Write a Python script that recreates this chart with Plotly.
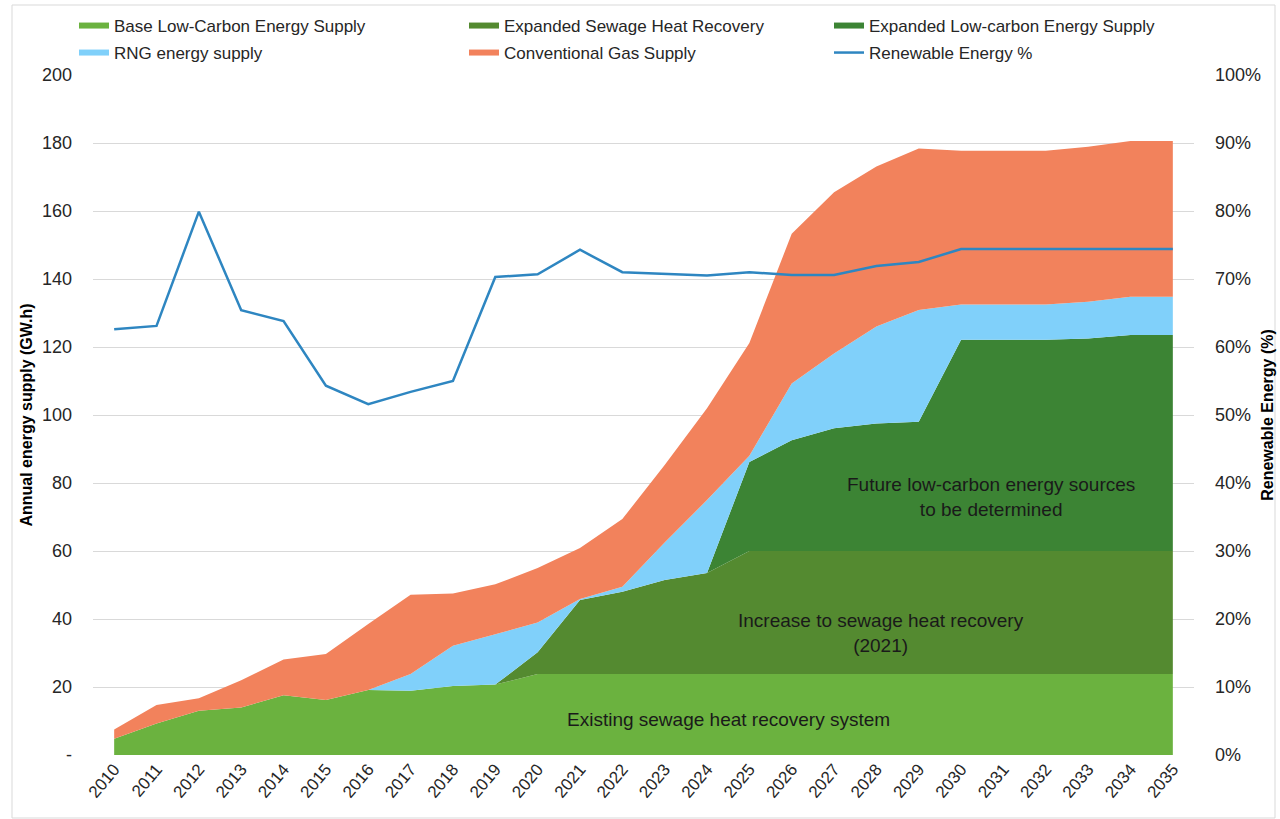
import plotly.graph_objects as go

# ---- data -----------------------------------------------------------------
years = [2010, 2011, 2012, 2013, 2014, 2015, 2016, 2017, 2018, 2019, 2020, 2021, 2022,
         2023, 2024, 2025, 2026, 2027, 2028, 2029, 2030, 2031, 2032, 2033, 2034, 2035]

# annual energy supply by source (GW.h), stacked bottom to top
base_low_carbon = [4.8, 9.3, 13.0, 14.0, 17.6, 16.2, 19.1, 18.9, 20.3, 20.7, 23.8, 23.8, 23.8,
                   23.8, 23.8, 23.8, 23.8, 23.8, 23.8, 23.8, 23.8, 23.8, 23.8, 23.8, 23.8, 23.8]
expanded_sewage = [0, 0, 0, 0, 0, 0, 0, 0, 0, 0, 6.4, 21.8, 24.2,
                   27.7, 29.7, 36.2, 36.2, 36.2, 36.2, 36.2, 36.2, 36.2, 36.2, 36.2, 36.2, 36.2]
expanded_low_carbon = [0, 0, 0, 0, 0, 0, 0, 0, 0, 0, 0, 0, 0,
                       0, 0, 26.2, 32.6, 36.1, 37.5, 38.0, 62.1, 62.1, 62.1, 62.5, 63.5, 63.5]
rng_supply = [0, 0, 0, 0, 0, 0, 0, 4.9, 11.8, 14.8, 8.8, 0.3, 1.5,
              11.0, 21.5, 1.8, 16.7, 22.0, 28.5, 32.9, 10.4, 10.4, 10.4, 10.8, 11.3, 11.3]
conventional_gas = [2.7, 5.4, 3.7, 8.0, 10.5, 13.5, 19.4, 23.3, 15.4, 14.7, 16.0, 15.0, 19.9,
                    22.8, 27.0, 33.2, 44.0, 47.4, 47.1, 47.5, 45.2, 45.2, 45.2, 45.6, 45.8, 45.8]

# share of renewable energy (%)
renewable_pct = [62.6, 63.1, 79.9, 65.4, 63.8, 54.3, 51.6, 53.4, 55.0, 70.3, 70.7, 74.3, 71.0,
                 70.7, 70.5, 71.0, 70.6, 70.6, 71.9, 72.5, 74.4, 74.4, 74.4, 74.4, 74.4, 74.4]

left_tickvals = [0, 20, 40, 60, 80, 100, 120, 140, 160, 180, 200]
left_ticktext = ["-", "20", "40", "60", "80", "100", "120", "140", "160", "180", "200"]
right_tickvals = [0, 10, 20, 30, 40, 50, 60, 70, 80, 90, 100]
right_ticktext = ["0%", "10%", "20%", "30%", "40%", "50%", "60%", "70%", "80%", "90%", "100%"]

# ---- layout geometry (pixels) -------------------------------------------------
W, H = 1280, 819
L, R, T, B = 93, 86, 75, 64
PW, PH = W - L - R, H - T - B


def px_x(px):
    return (px - L) / PW


def px_y(py):
    return (H - B - py) / PH


FONT = "Liberation Sans, Arial, sans-serif"
TXT = "#262626"

fig = go.Figure()

areas = [
    ("Base Low-Carbon Energy Supply", base_low_carbon, "#6BB23F", "legend"),
    ("Expanded Sewage Heat Recovery", expanded_sewage, "#548A30", "legend3"),
    ("Expanded Low-carbon Energy Supply", expanded_low_carbon, "#3C8434", "legend5"),
    ("RNG energy supply", rng_supply, "#80D0FA", "legend2"),
    ("Conventional Gas Supply", conventional_gas, "#F2825C", "legend4"),
]
for name, vals, color, leg in areas:
    fig.add_trace(go.Scatter(
        x=years, y=vals, name=name, mode="none", stackgroup="supply",
        fillcolor=color, line=dict(width=0), legend=leg, hoverinfo="x+y+name",
    ))

fig.add_trace(go.Scatter(
    x=years, y=renewable_pct, name="Renewable Energy %", mode="lines",
    line=dict(color="#2E86C1", width=2.5), yaxis="y2", legend="legend6",
))

# ---- in-chart labels ----------------------------------------------------------
notes = [
    (2030.7, 76.0, "Future low-carbon energy sources<br>to be determined"),
    (2028.1, 36.0, "Increase to sewage heat recovery<br>(2021)"),
    (2024.5, 10.5, "Existing sewage heat recovery system"),
]
for x, y, text in notes:
    fig.add_annotation(x=x, y=y, xref="x", yref="y", text=text, showarrow=False,
                       font=dict(family=FONT, size=19, color="#1A1A1A"), align="center")

# ---- legends: three columns of two rows ---------------------------------------
col_text_x = [115, 505, 870]
row_y = [26, 53]
legend_slots = {
    "legend": (0, 0), "legend2": (0, 1),
    "legend3": (1, 0), "legend4": (1, 1),
    "legend5": (2, 0), "legend6": (2, 1),
}
legend_layout = {}
for key, (c, r) in legend_slots.items():
    legend_layout[key] = dict(
        x=px_x(col_text_x[c] - 41), y=px_y(row_y[r]), xanchor="left", yanchor="middle",
        orientation="v", bgcolor="rgba(0,0,0,0)", borderwidth=0,
        font=dict(family=FONT, size=17, color=TXT), itemwidth=30,
    )

fig.update_layout(
    width=W, height=H,
    margin=dict(l=L, r=R, t=T, b=B, autoexpand=False),
    paper_bgcolor="white", plot_bgcolor="white",
    font=dict(family=FONT, color=TXT),
    showlegend=True,
    **legend_layout,
    xaxis=dict(
        range=[2009.5, 2035.5], tickvals=years, ticktext=[str(y) for y in years],
        tickangle=-50, tickfont=dict(family=FONT, size=17, color=TXT),
        showgrid=False, zeroline=False, showline=False, ticks="", automargin=False,
    ),
    yaxis=dict(
        range=[0, 200], tickvals=left_tickvals, ticktext=left_ticktext,
        tickfont=dict(family=FONT, size=18, color=TXT),
        showgrid=True, gridcolor="#D9D9D9", gridwidth=1, zeroline=False,
        showline=False, ticks="", ticklabelstandoff=20, automargin=False,
        title=dict(text="<b>Annual energy supply (GW.h)</b>", standoff=5,
                   font=dict(family=FONT, size=16, color="#000000")),
    ),
    yaxis2=dict(
        range=[0, 100], overlaying="y", side="right", tickvals=right_tickvals,
        ticktext=right_ticktext, tickfont=dict(family=FONT, size=18, color=TXT),
        showgrid=False, zeroline=False, showline=False, ticks="",
        ticklabelstandoff=20, automargin=False,
        title=dict(text="<b>Renewable Energy (%)</b>", standoff=1,
                   font=dict(family=FONT, size=16, color="#000000")),
    ),
    shapes=[dict(
        type="rect", xref="paper", yref="paper",
        x0=px_x(12), x1=px_x(1275), y0=px_y(818), y1=px_y(5),
        line=dict(color="#D9D9D9", width=1), fillcolor="rgba(0,0,0,0)", layer="below",
    )],
)

fig.write_html("out.html")
